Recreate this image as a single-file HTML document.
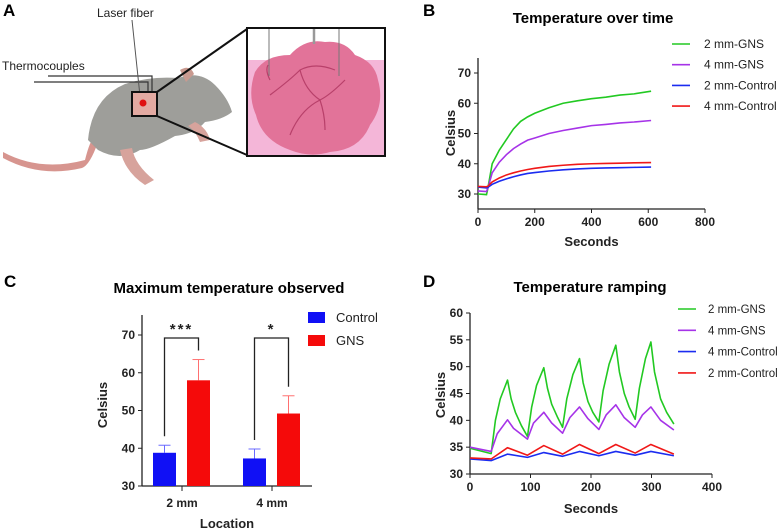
<!DOCTYPE html>
<html><head><meta charset="utf-8"><style>
body{margin:0;background:#fff;font-family:"Liberation Sans",Arial,sans-serif}
svg{display:block}
text{font-family:"Liberation Sans",Arial,sans-serif}
</style></head><body>
<svg id="fig" width="780" height="530" viewBox="0 0 780 530">
<g>
<text x="3" y="16" font-size="17" font-weight="bold">A</text>
<text x="97" y="17" font-size="12" fill="#222">Laser fiber</text>
<text x="2" y="70" font-size="12" fill="#222">Thermocouples</text>
<path d="M3,152 Q40,172 85,160 Q90,140 94,138 L98,142 Q90,165 82,168 Q40,178 3,158 Z" fill="#d7958f"/>
<path d="M88,140 Q92,98 125,84 Q150,76 178,78 Q200,70 215,85 Q228,98 232,112 Q222,120 205,122 Q195,134 175,136 Q150,150 140,150 Q120,162 98,150 Z" fill="#9e9e9a"/>
<path d="M180,70 Q190,64 194,74 L186,82 Z" fill="#c99a90"/>
<path d="M120,150 Q125,172 145,185 L154,180 Q135,165 132,148 Z" fill="#d7a39c"/>
<path d="M195,122 Q207,128 210,140 L200,142 Q195,130 188,126 Z" fill="#d7a39c"/>
<path d="M34,82 L148,82 L148,92 M48,76 L152,76 L152,92" stroke="#333" stroke-width="1.2" fill="none"/>
<line x1="132" y1="20" x2="140" y2="96" stroke="#555" stroke-width="1"/>
<rect x="132" y="92" width="25" height="24" fill="#e3aaa2" stroke="#111" stroke-width="2"/>
<circle cx="143" cy="103" r="3.5" fill="#e01010"/>
<line x1="157" y1="92" x2="247" y2="29" stroke="#111" stroke-width="2"/>
<line x1="157" y1="116" x2="247" y2="155" stroke="#111" stroke-width="2"/>
<rect x="247" y="28" width="138" height="128" fill="#fff" stroke="#111" stroke-width="2"/>
<rect x="248" y="60" width="136" height="95" fill="#f4b6d8"/>
<path d="M255,72 Q265,55 290,55 Q305,38 325,42 Q345,40 355,55 Q375,62 378,80 Q385,105 370,125 Q360,150 330,152 Q310,158 290,150 Q262,140 256,115 Q247,95 255,72 Z" fill="#e27399"/>
<path d="M270,95 Q290,80 300,70 Q315,62 335,70 M300,70 Q305,90 320,100 Q330,95 345,80 M320,100 Q300,110 290,135 M320,100 Q325,115 325,130 M270,80 Q265,70 268,65" stroke="#b8406a" stroke-width="1.2" fill="none"/>
<line x1="269" y1="29" x2="269" y2="76" stroke="#777" stroke-width="1"/>
<line x1="339" y1="29" x2="339" y2="76" stroke="#777" stroke-width="1"/>
<line x1="314" y1="29" x2="314" y2="44" stroke="#999" stroke-width="2.5"/>
</g>
<g id="pb"></g>
<g id="pc"></g>
<g id="pd"></g>
</svg>
<script>
// Panel B data
const bTimes = [0,30,35,50,75,100,125,150,175,200,250,300,350,400,450,500,550,610];
const bGreen = [30,29.8,32,40,44.5,48,51.5,54,55.5,56.7,58.5,60,60.8,61.5,62,62.7,63.1,64];
const bPurple = [31,30.8,32,37,40.5,43,45,46.5,47.8,48.5,50,51,51.8,52.6,53,53.5,53.8,54.3];
const bBlue = [32.3,32,32.2,33.2,34.2,35,35.7,36.3,36.8,37.1,37.6,38,38.3,38.5,38.6,38.7,38.8,38.9];
const bRed = [32.5,32.4,32.6,34,35.3,36.3,37,37.6,38.1,38.5,39.1,39.5,39.8,40,40.1,40.2,40.3,40.4];
const bLabels = ["2 mm-GNS","4 mm-GNS","2 mm-Control","4 mm-Control"];
const bXTicks = [0,200,400,600,800];
const bYTicks = [30,40,50,60,70];
// Panel C data
const cCats = ["2 mm","4 mm"];
const cControl = [38.8,37.3];
const cControlErr = [2.0,2.5];
const cGNS = [58.0,49.2];
const cGNSErr = [5.5,4.7];
const cSig = ["***","*"];
const cYTicks = [30,40,50,60,70];
// Panel D data
const dGreenT = [0,35,42,50,62,68,75,85,95,102,110,122,128,135,145,153,160,170,181,187,195,203,213,220,230,241,247,255,263,273,280,290,299,305,315,325,337];
const dGreen = [34.8,33.8,40,44,47.5,44,41.5,39,37,42.5,46.5,49.8,46,43,40.5,38.7,44,48.5,51.5,47,43.5,41.5,39.7,45.5,50.5,54,49,45,42.5,40.2,46,51.5,54.6,49,44,41.5,39.3];
const dPurpleT = [0,35,45,62,72,95,105,122,135,153,165,181,195,213,225,241,255,273,285,299,315,337];
const dPurple = [35,34.2,37.5,40.1,38.5,36.5,39.5,41.5,39.5,37.6,40.5,42.5,40.3,38.3,41,42.9,40.5,38.7,41,42.5,40,38.2];
const dCtrlT = [0,35,62,95,122,153,181,213,241,273,299,337];
const dRed = [33,32.8,34.9,33.5,35.3,33.7,35.5,33.8,35.5,33.9,35.5,33.7];
const dBlue = [32.8,32.5,33.7,33.1,34,33.3,34.2,33.4,34.2,33.5,34.2,33.4];
const dLabels = ["2 mm-GNS","4 mm-GNS","4 mm-Control","2 mm-Control"];
const dXTicks = [0,100,200,300,400];
const dYTicks = [30,35,40,45,50,55,60];

const NS="http://www.w3.org/2000/svg";
function mk(parent,tag,attrs,txt){const e=document.createElementNS(NS,tag);for(const k in attrs)e.setAttribute(k,attrs[k]);if(txt!==undefined)e.textContent=txt;parent.appendChild(e);return e;}

// ---- Panel B ----
(function(){
const g=document.getElementById('pb');
const x0=478,x1=705,yb=209,ytop=58;
const xs=v=>x0+(v/800)*(x1-x0);
const ys=v=>194-(v-30)*(121/40);
let t;
t=mk(g,'text',{x:423,y:16,'font-size':17,'font-weight':'bold'},'B');


t=mk(g,'text',{x:593,y:23,'font-size':15,'font-weight':'bold','text-anchor':'middle'},'Temperature over time');


t=mk(g,'line',{x1:x0,y1:ytop,x2:x0,y2:yb,stroke:'#222','stroke-width':1.3});


t=mk(g,'line',{x1:x0,y1:yb,x2:x1,y2:yb,stroke:'#222','stroke-width':1.3});


bYTicks.forEach(v=>{mk(g,'line',{x1:x0-4,y1:ys(v),x2:x0,y2:ys(v),stroke:'#222'});
 t=mk(g,'text',{x:x0-7,y:ys(v)+4,'font-size':12,'font-weight':'bold','text-anchor':'end',fill:'#222'},v);
 
 });
bXTicks.forEach(v=>{mk(g,'line',{x1:xs(v),y1:yb,x2:xs(v),y2:yb+4,stroke:'#222'});
 t=mk(g,'text',{x:xs(v),y:yb+17,'font-size':12,'font-weight':'bold','text-anchor':'middle',fill:'#222'},v);
 
 });
t=mk(g,'text',{x:x0+(x1-x0)*0.5,y:246,'font-size':13,'font-weight':'bold','text-anchor':'middle',fill:'#222'},'Seconds');


t=mk(g,'text',{x:0,y:0,'font-size':13,'font-weight':'bold','text-anchor':'middle',fill:'#222',transform:'translate(455,133) rotate(-90)'},'Celsius');


const series=[bGreen,bPurple,bBlue,bRed],cols=['#22c922','#a633e8','#1b2cf0','#f01818'];
series.forEach((s,i)=>{
 const p=mk(g,'polyline',{points:s.map((v,j)=>xs(bTimes[j])+','+ys(v)).join(' '),fill:'none',stroke:cols[i],'stroke-width':1.6});
 
 
 const ly=44+i*20.7;
 const l=mk(g,'line',{x1:672,y1:ly,x2:690,y2:ly,stroke:cols[i],'stroke-width':1.6});
 
 
 const tx=mk(g,'text',{x:704,y:ly+4,'font-size':12,fill:'#222'},bLabels[i]);
 
 
});
})();

// ---- Panel C ----
(function(){
const g=document.getElementById('pc');
const x0=142,x1=312,yb=486,ytop=315;
const ys=v=>yb-(v-30)*(151/40);
const centers=[182,272];
let t;
t=mk(g,'text',{x:4,y:287,'font-size':17,'font-weight':'bold'},'C');


t=mk(g,'text',{x:229,y:293,'font-size':15,'font-weight':'bold','text-anchor':'middle'},'Maximum temperature observed');


t=mk(g,'line',{x1:x0,y1:ytop,x2:x0,y2:yb,stroke:'#222','stroke-width':1.3});


t=mk(g,'line',{x1:x0,y1:yb,x2:x1,y2:yb,stroke:'#222','stroke-width':1.3});


cYTicks.forEach(v=>{mk(g,'line',{x1:x0-4,y1:ys(v),x2:x0,y2:ys(v),stroke:'#222'});
 t=mk(g,'text',{x:x0-7,y:ys(v)+4,'font-size':12,'font-weight':'bold','text-anchor':'end',fill:'#222'},v);
 
 });
t=mk(g,'text',{x:0,y:0,'font-size':13,'font-weight':'bold','text-anchor':'middle',fill:'#222',transform:'translate(107,405) rotate(-90)'},'Celsius');


t=mk(g,'text',{x:227,y:528,'font-size':13,'font-weight':'bold','text-anchor':'middle',fill:'#222'},'Location');


cCats.forEach((c,i)=>{
 const cx=centers[i];
 mk(g,'line',{x1:cx,y1:yb,x2:cx,y2:yb+5,stroke:'#222'});
 t=mk(g,'text',{x:cx,y:507,'font-size':12,'font-weight':'bold','text-anchor':'middle',fill:'#222'},c);
 
 
 const bw=23;
 const xc=cx-29, xg=cx+5;
 mk(g,'line',{x1:xc+bw/2,y1:ys(cControl[i]),x2:xc+bw/2,y2:ys(cControl[i]+cControlErr[i]),stroke:'#6a6aff','stroke-width':1});
 mk(g,'line',{x1:xc+bw/2-6,y1:ys(cControl[i]+cControlErr[i]),x2:xc+bw/2+6,y2:ys(cControl[i]+cControlErr[i]),stroke:'#6a6aff','stroke-width':1});
 mk(g,'line',{x1:xg+bw/2,y1:ys(cGNS[i]),x2:xg+bw/2,y2:ys(cGNS[i]+cGNSErr[i]),stroke:'#ff7070','stroke-width':1});
 mk(g,'line',{x1:xg+bw/2-6,y1:ys(cGNS[i]+cGNSErr[i]),x2:xg+bw/2+6,y2:ys(cGNS[i]+cGNSErr[i]),stroke:'#ff7070','stroke-width':1});
 let r=mk(g,'rect',{x:xc,y:ys(cControl[i]),width:bw,height:yb-ys(cControl[i]),fill:'#1010f5'});
 
 
 r=mk(g,'rect',{x:xg,y:ys(cGNS[i]),width:bw,height:yb-ys(cGNS[i]),fill:'#f50a0a'});
 
 
 const lx=xc+bw/2, rx=xg+bw/2, top=338;
 const br=mk(g,'path',{d:`M${lx},${ys(cControl[i]+cControlErr[i])-9} L${lx},${top} L${rx},${top} L${rx},${ys(cGNS[i]+cGNSErr[i])-9}`,fill:'none',stroke:'#222','stroke-width':1.3});
 
 
 t=mk(g,'text',{x:(lx+rx)/2,y:334,'font-size':15,'font-weight':'bold','text-anchor':'middle',fill:'#222','letter-spacing':'2'},cSig[i]);
 
 
});
[['Control','#1010f5',312],['GNS','#f50a0a',335]].forEach(([n,c,y])=>{
 const r=mk(g,'rect',{x:308,y:y,width:17,height:11,fill:c});
 
 
 const tx=mk(g,'text',{x:336,y:y+10,'font-size':13,fill:'#222'},n);
 
 
});
})();

// ---- Panel D ----
(function(){
const g=document.getElementById('pd');
const x0=470,x1=712,yb=474,ytop=313;
const xs=v=>x0+(v/400)*(x1-x0);
const ys=v=>yb-(v-30)*(161/30);
let t;
t=mk(g,'text',{x:423,y:287,'font-size':17,'font-weight':'bold'},'D');


t=mk(g,'text',{x:590,y:292,'font-size':15,'font-weight':'bold','text-anchor':'middle'},'Temperature ramping');


t=mk(g,'line',{x1:x0,y1:ytop,x2:x0,y2:yb,stroke:'#222','stroke-width':1.3});


t=mk(g,'line',{x1:x0,y1:yb,x2:x1,y2:yb,stroke:'#222','stroke-width':1.3});


dYTicks.forEach(v=>{mk(g,'line',{x1:x0-4,y1:ys(v),x2:x0,y2:ys(v),stroke:'#222'});
 t=mk(g,'text',{x:x0-7,y:ys(v)+4,'font-size':12,'font-weight':'bold','text-anchor':'end',fill:'#222'},v);
 
 });
dXTicks.forEach(v=>{mk(g,'line',{x1:xs(v),y1:yb,x2:xs(v),y2:yb+4,stroke:'#222'});
 t=mk(g,'text',{x:xs(v),y:yb+17,'font-size':12,'font-weight':'bold','text-anchor':'middle',fill:'#222'},v);
 
 });
t=mk(g,'text',{x:591,y:513,'font-size':13,'font-weight':'bold','text-anchor':'middle',fill:'#222'},'Seconds');


t=mk(g,'text',{x:0,y:0,'font-size':13,'font-weight':'bold','text-anchor':'middle',fill:'#222',transform:'translate(445,395) rotate(-90)'},'Celsius');


const series=[[dGreenT,dGreen],[dPurpleT,dPurple],[dCtrlT,dBlue],[dCtrlT,dRed]];
const cols=['#22c922','#a633e8','#1b2cf0','#f01818'];
series.forEach(([T,s],i)=>{
 const p=mk(g,'polyline',{points:s.map((v,j)=>xs(T[j])+','+ys(v)).join(' '),fill:'none',stroke:cols[i],'stroke-width':1.6,'stroke-linejoin':'round'});
 
 
 const ly=309+i*21.3;
 const l=mk(g,'line',{x1:678,y1:ly,x2:696,y2:ly,stroke:cols[i],'stroke-width':1.6});
 
 
 const tx=mk(g,'text',{x:708,y:ly+4,'font-size':11.5,fill:'#222'},dLabels[i]);
 
 
});
})();
</script>
</body></html>
